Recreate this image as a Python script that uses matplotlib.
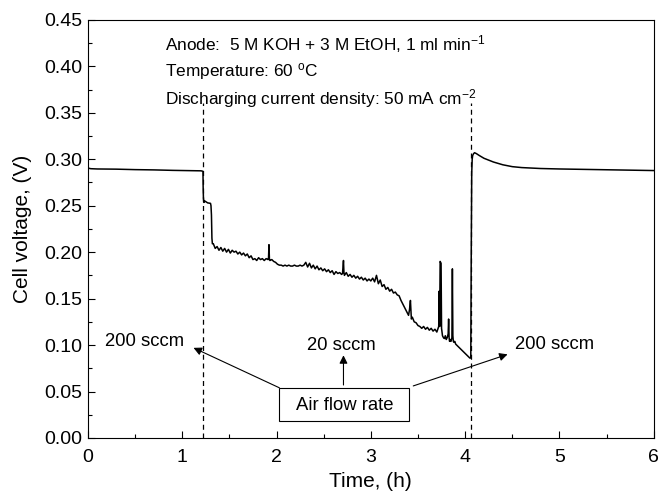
import matplotlib
matplotlib.use("Agg")
import matplotlib.pyplot as plt
from matplotlib.patches import Rectangle
from matplotlib.ticker import MultipleLocator

plt.rcParams["font.family"] = ["Liberation Sans", "DejaVu Sans"]
plt.rcParams["mathtext.default"] = "regular"

# 200 sccm, before the switch
before_t = [0, 0.03, 0.1, 0.3, 0.5, 0.7, 0.9, 1.1, 1.2]
before_v = [0.2905, 0.2898, 0.2895, 0.2893, 0.2888, 0.2885, 0.2880, 0.2877, 0.2875]

# step down after switching to 20 sccm
step_t = [1.22, 1.222, 1.225, 1.23, 1.24, 1.27, 1.30, 1.305, 1.31, 1.315, 1.32]
step_v = [0.287, 0.270, 0.258, 0.2535, 0.255, 0.253, 0.2525, 0.250, 0.240, 0.215, 0.209]

# 20 sccm discharge
mid_t = [1.33, 1.35, 1.37, 1.39, 1.41, 1.43, 1.45, 1.47, 1.49, 1.51,
         1.53, 1.55, 1.57, 1.59, 1.61, 1.63, 1.65, 1.67, 1.69, 1.71,
         1.73, 1.75, 1.77, 1.79, 1.81, 1.83, 1.85, 1.87, 1.89, 1.91,
         1.915, 1.92, 1.925, 1.93, 1.95, 1.97, 1.99, 2.01, 2.03, 2.05,
         2.07, 2.09, 2.11, 2.13, 2.15, 2.17, 2.19, 2.21, 2.23, 2.25,
         2.27, 2.29, 2.31, 2.33, 2.35, 2.37, 2.39, 2.41, 2.43, 2.45,
         2.47, 2.49, 2.51, 2.53, 2.55, 2.57, 2.59, 2.61, 2.63, 2.65,
         2.67, 2.69, 2.70, 2.705, 2.71, 2.715, 2.72, 2.74, 2.76, 2.78,
         2.80, 2.82, 2.84, 2.86, 2.88, 2.90, 2.92, 2.94, 2.96, 2.98,
         3.00, 3.02, 3.04, 3.06, 3.08, 3.10, 3.12, 3.14, 3.16, 3.18,
         3.20, 3.22, 3.24, 3.26, 3.28, 3.30, 3.32, 3.34, 3.36, 3.38,
         3.40, 3.41, 3.42, 3.43, 3.44, 3.46, 3.48, 3.50, 3.52, 3.54,
         3.56, 3.58, 3.60, 3.62, 3.64, 3.66, 3.68, 3.70, 3.71, 3.72,
         3.725, 3.73, 3.735, 3.745, 3.75, 3.76, 3.77, 3.78, 3.79, 3.80,
         3.81, 3.82, 3.825, 3.83, 3.835, 3.84, 3.85, 3.86, 3.865, 3.87,
         3.875, 3.88, 3.89, 3.90, 3.92, 3.94, 3.96, 3.98, 4.00, 4.02,
         4.04, 4.05, 4.06]
mid_v = [0.209, 0.204, 0.206, 0.202, 0.205, 0.201, 0.204, 0.200, 0.203, 0.199,
         0.202, 0.200, 0.201, 0.198, 0.200, 0.197, 0.199, 0.196, 0.198, 0.194,
         0.196, 0.192, 0.193, 0.191, 0.194, 0.192, 0.193, 0.191, 0.193, 0.192,
         0.193, 0.208, 0.192, 0.191, 0.192, 0.190, 0.189, 0.187, 0.186, 0.186,
         0.185, 0.186, 0.185, 0.186, 0.185, 0.185, 0.186, 0.185, 0.185, 0.186,
         0.185, 0.186, 0.189, 0.184, 0.188, 0.183, 0.186, 0.182, 0.185, 0.181,
         0.183, 0.180, 0.182, 0.179, 0.181, 0.178, 0.180, 0.176, 0.179, 0.177,
         0.178, 0.176, 0.177, 0.184, 0.191, 0.178, 0.175, 0.178, 0.174, 0.176,
         0.173, 0.175, 0.172, 0.174, 0.171, 0.173, 0.170, 0.172, 0.169, 0.171,
         0.169, 0.172, 0.168, 0.175, 0.166, 0.170, 0.163, 0.165, 0.160, 0.162,
         0.158, 0.160, 0.156, 0.157, 0.154, 0.153, 0.148, 0.144, 0.140, 0.136,
         0.132, 0.138, 0.148, 0.128, 0.130, 0.125, 0.124, 0.121, 0.120, 0.118,
         0.120, 0.117, 0.119, 0.116, 0.118, 0.115, 0.117, 0.114, 0.117, 0.120,
         0.158, 0.120, 0.190, 0.188, 0.118, 0.110, 0.108, 0.107, 0.110, 0.106,
         0.108, 0.112, 0.128, 0.108, 0.104, 0.106, 0.104, 0.108, 0.182, 0.110,
         0.104, 0.103, 0.104, 0.101, 0.099, 0.097, 0.095, 0.093, 0.091, 0.089,
         0.087, 0.086, 0.086]

# back to 200 sccm
rec_t = [4.06, 4.065, 4.07, 4.075, 4.08, 4.09, 4.10, 4.12, 4.15, 4.20,
         4.25, 4.30, 4.40, 4.50, 4.60, 4.80, 5.00, 5.30, 5.60, 6.00]
rec_v = [0.086, 0.200, 0.285, 0.300, 0.304, 0.306, 0.307, 0.306, 0.304, 0.301,
         0.299, 0.297, 0.294, 0.292, 0.291, 0.290, 0.2895, 0.289, 0.2885, 0.2878]

switch_times = [1.22, 4.06]

t = before_t + step_t + mid_t + rec_t
v = before_v + step_v + mid_v + rec_v

fig = plt.figure(figsize=(6.61, 4.96), dpi=100)
ax = fig.add_axes([0.133, 0.117, 0.856, 0.843])

ax.plot(t, v, color="black", lw=1.1)
for st in switch_times:
    ax.plot([st, st], [0, 0.36], color="black", lw=0.9, ls=(0, (4, 3)))

ax.set_xlim(0, 6)
ax.set_ylim(0, 0.45)
ax.xaxis.set_major_locator(MultipleLocator(1))
ax.xaxis.set_minor_locator(MultipleLocator(0.5))
ax.yaxis.set_major_locator(MultipleLocator(0.05))
ax.yaxis.set_minor_locator(MultipleLocator(0.025))
ax.yaxis.set_major_formatter(plt.FormatStrFormatter("%.2f"))
ax.tick_params(which="both", direction="in", labelsize=14, width=0.8)
ax.tick_params(which="major", length=5, pad=4)
ax.tick_params(axis="x", which="major", pad=8)
ax.tick_params(which="minor", length=3)
ax.set_xlabel("Time, (h)", fontsize=15, labelpad=4)
ax.set_ylabel("Cell voltage, (V)", fontsize=15, labelpad=9)

txt = dict(fontsize=12.4, va="center")
ax.text(0.82, 0.424, "Anode:  5 M KOH + 3 M EtOH, 1 ml min$^{-1}$", **txt)
ax.text(0.82, 0.394, "Temperature: 60 $^{o}$C", **txt)
ax.text(0.82, 0.365, "Discharging current density: 50 mA cm$^{-2}$", **txt)

ax.add_patch(Rectangle((2.03, 0.018), 1.37, 0.036, fill=False, lw=0.8, ec="black"))
ax.text(2.72, 0.035, "Air flow rate", fontsize=13.3, ha="center", va="center")

arrow = dict(arrowstyle="-|>", color="black", lw=0.8, mutation_scale=12,
             shrinkA=0, shrinkB=0)
ax.annotate("", xy=(1.12, 0.097), xytext=(2.03, 0.054), arrowprops=arrow)
ax.annotate("", xy=(2.71, 0.089), xytext=(2.71, 0.057), arrowprops=arrow)
ax.annotate("", xy=(4.45, 0.090), xytext=(3.45, 0.056), arrowprops=arrow)
ax.text(0.60, 0.104, "200 sccm", fontsize=13.3, ha="center", va="center")
ax.text(2.69, 0.100, "20 sccm", fontsize=13.3, ha="center", va="center")
ax.text(4.95, 0.101, "200 sccm", fontsize=13.3, ha="center", va="center")

fig.savefig("out.png", dpi=100)
